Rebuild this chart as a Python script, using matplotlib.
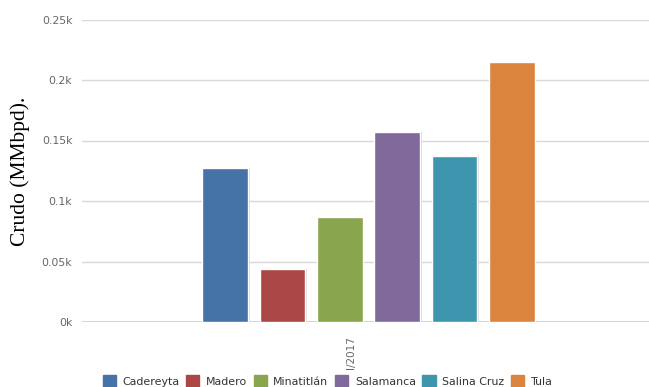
import matplotlib
matplotlib.use("Agg")
import matplotlib.pyplot as plt
from matplotlib.patches import Patch
from matplotlib.ticker import FixedLocator
import numpy as np

categories = ["I/2017"]
series_names = ["Cadereyta", "Madero", "Minatitlán", "Salamanca", "Salina Cruz", "Tula"]
series_values = [127, 44, 87, 157, 137, 215]
series_colors = ["#4572A7", "#AA4643", "#89A54E", "#80699B", "#3D96AE", "#DB843D"]
yticks = [0, 50, 100, 150, 200, 250]
ytick_labels = ["0k", "0.05k", "0.1k", "0.15k", "0.2k", "0.25k"]
ylabel = "Crudo (MMbpd)."

W, H = 649, 387
fig = plt.figure(figsize=(W / 100, H / 100), dpi=100)
left, right, top, bottom = 82, 655, 19.5, 322
ax = fig.add_axes([left / W, (H - bottom) / H, (right - left) / W, (bottom - top) / H])

n = len(series_names)
group_padding = 0.2
point_padding = 0.1
slot = (1 - 2 * group_padding) / n
width = slot * (1 - 2 * point_padding)
for i, (name, val, col) in enumerate(zip(series_names, series_values, series_colors)):
    x = -0.5 + group_padding + slot * (i + 0.5)
    ax.bar(x + 0.003, val, width=width, bottom=0, color="#d9d9d9", zorder=2, linewidth=0)
    ax.bar(x, val, width=width, color=col, edgecolor="white", linewidth=1.0, zorder=3, label=name)

ax.set_xlim(-0.5, 0.5)
ax.set_ylim(0, 250)
ax.yaxis.set_major_locator(FixedLocator(yticks))
ax.set_yticklabels(ytick_labels, fontsize=7.8, color="#666666")
ax.set_xticks([-0.03])
ax.set_xticklabels(categories, rotation=90, fontsize=7.5, color="#666666")
ax.tick_params(axis="y", length=0, pad=7)
ax.tick_params(axis="x", length=0, pad=10)
for s in ax.spines.values():
    s.set_visible(False)
ax.grid(axis="y", color="#d8d8d8", linewidth=1, zorder=0)
ax.axhline(0, color="#c0d0e0", linewidth=1.2, zorder=1)
ax.set_axisbelow(True)

fig.text(20 / W, 1 - 171 / H, ylabel, rotation=90, ha="center", va="center",
         fontsize=15.5, family="Liberation Serif", color="black")

handles = [Patch(facecolor=c, edgecolor=c) for c in series_colors]
leg = fig.legend(handles, series_names, loc="center", bbox_to_anchor=(327.5 / W, 1 - 381 / H),
                 ncol=6, frameon=False, fontsize=7.9, handlelength=1.2, handleheight=1.2,
                 handletextpad=0.6, columnspacing=0.6, borderaxespad=0)
for t in leg.get_texts():
    t.set_color("#333333")

fig.savefig("out.png", dpi=100)
